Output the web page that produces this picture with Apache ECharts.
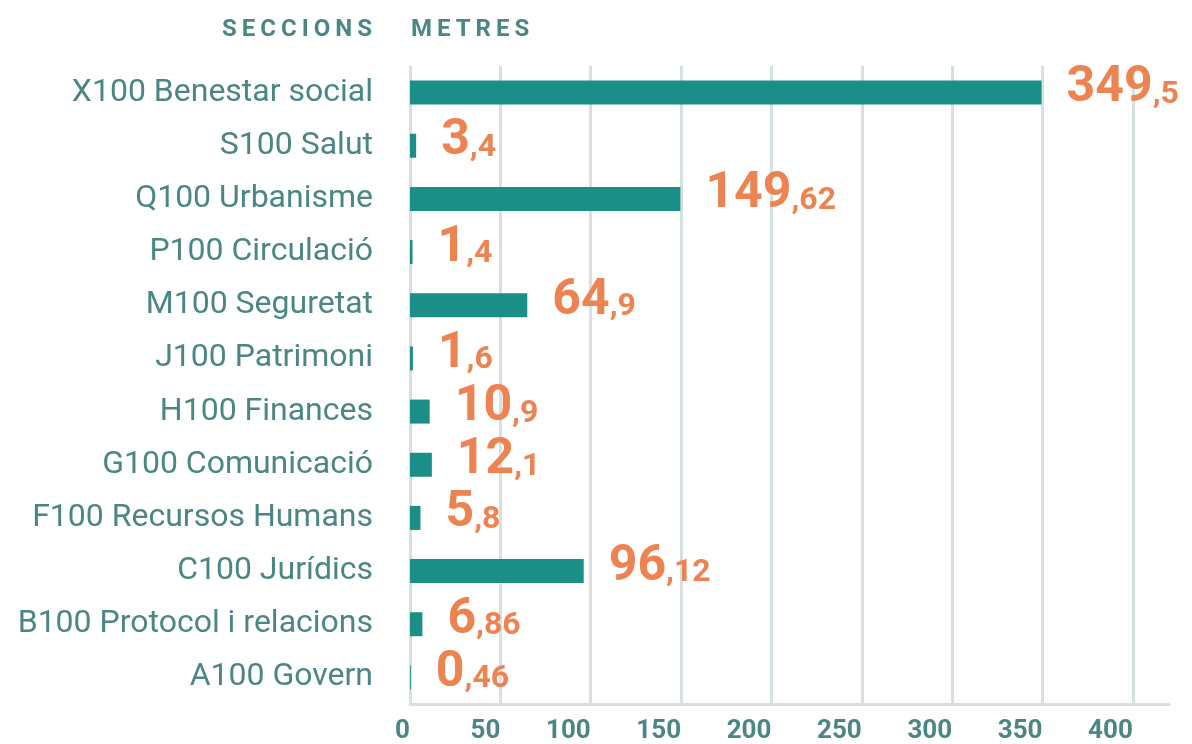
<!DOCTYPE html>
<html>
<head>
<meta charset="utf-8">
<script src="https://cdn.jsdelivr.net/npm/echarts@6/dist/echarts.min.js"></script>
<style>
  html, body { margin: 0; padding: 0; background: #fff; }
  #wrap { position: relative; width: 1192px; height: 744px; }
  #chart { width: 1192px; height: 744px; }
  .head {
    position: absolute; top: 14px;
    font-family: Roboto, sans-serif; font-weight: 700; font-size: 24px;
    letter-spacing: 5px; color: #4a8784;
  }
</style>
</head>
<body>
<div id="wrap">
  <div id="chart"></div>
  <div class="head" style="left:222px">SECCIONS</div>
  <div class="head" style="left:411px">METRES</div>
</div>
<script>
// seccions, de dalt a baix
var categories = ['X100 Benestar social', 'S100 Salut', 'Q100 Urbanisme', 'P100 Circulació',
  'M100 Seguretat', 'J100 Patrimoni', 'H100 Finances', 'G100 Comunicació',
  'F100 Recursos Humans', 'C100 Jurídics', 'B100 Protocol i relacions', 'A100 Govern'];
var metres = [349.5, 3.4, 149.62, 1.4, 64.9, 1.6, 10.9, 12.1, 5.8, 96.12, 6.86, 0.46];
var ticks = [0, 50, 100, 150, 200, 250, 300, 350, 400];

var teal = '#1b8f87';
var orange = '#ec8350';
var labelColor = '#4a8784';

var chart = echarts.init(document.getElementById('chart'));

chart.setOption({
  backgroundColor: '#fff',
  animation: false,
  grid: { left: 410, right: 23, top: 66, bottom: 37 },
  xAxis: {
    type: 'value',
    min: 0,
    max: 420,
    interval: 50,
    axisLine: { show: true, lineStyle: { color: '#d6e0e0', width: 3 } },
    axisTick: { show: false },
    splitLine: { show: true, showMaxLine: false, lineStyle: { color: '#d6e0e0', width: 3 } },
    axisLabel: {
      showMaxLabel: false,
      align: 'right',
      margin: 14,
      color: labelColor,
      fontFamily: 'Roboto',
      fontWeight: 'bold',
      fontSize: 26,
      formatter: function (v) {
        return ticks.indexOf(v) >= 0 ? String(v) : '';
      }
    }
  },
  yAxis: {
    type: 'category',
    inverse: true,
    data: categories,
    axisLine: { show: false },
    axisTick: { show: false },
    axisLabel: {
      margin: 37,
      color: labelColor,
      fontFamily: 'Roboto',
      fontSize: 32,
      padding: [6, 0, 0, 0]
    }
  },
  series: [{
    type: 'bar',
    data: metres,
    barWidth: 24,
    itemStyle: { color: teal },
    label: {
      show: true,
      position: 'right',
      distance: 25,
      offset: [0, -4],
      formatter: function (p) {
        var parts = String(p.value).split('.');
        return '{i|' + parts[0] + '}{d|,' + (parts[1] || '0') + '}';
      },
      rich: {
        i: { fontFamily: 'Roboto', fontWeight: 'bold', fontSize: 50, color: orange, verticalAlign: 'bottom', lineHeight: 50 },
        d: { fontFamily: 'Roboto', fontWeight: 'bold', fontSize: 32, color: orange, verticalAlign: 'bottom', lineHeight: 50, padding: [0, 0, 3, 0] }
      }
    }
  }]
});
</script>
</body>
</html>
